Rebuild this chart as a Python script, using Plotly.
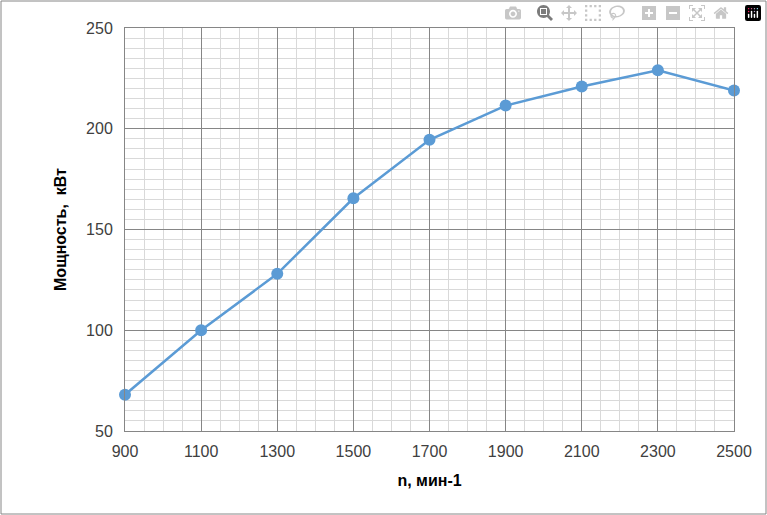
import plotly.graph_objects as go

rpm = [900, 1100, 1300, 1500, 1700, 1900, 2100, 2300, 2500]
power = [68, 100, 128, 165.5, 194.5, 211.5, 221, 229, 219]

W, H = 767, 515
ml, mr, mt, mb = 125, 33, 28, 84
pw, ph = W - ml - mr, H - mt - mb

fig = go.Figure(go.Scatter(
    x=rpm, y=power, mode="lines+markers", cliponaxis=False,
    line=dict(color="#5B9BD5", width=2.5),
    marker=dict(color="#5B9BD5", size=12),
))

fig.update_layout(
    width=W, height=H, margin=dict(l=ml, r=mr, t=mt, b=mb),
    plot_bgcolor="white", paper_bgcolor="white", showlegend=False,
    font=dict(family="Liberation Sans, Arial", size=16, color="#404040"),
)
fig.update_xaxes(
    range=[900, 2500], dtick=200, tickmode="linear", tick0=900,
    showgrid=True, gridcolor="#868686", gridwidth=1,
    minor=dict(dtick=50, showgrid=True, gridcolor="#D9D9D9"),
    showline=True, linecolor="#868686", mirror=True, zeroline=False,
    title=dict(text="<b>n, мин-1</b>", font=dict(size=16, color="black")),
    ticks="", ticklabelstandoff=6,
)
fig.update_yaxes(
    range=[50, 250], dtick=50,
    showgrid=True, gridcolor="#868686", gridwidth=1,
    minor=dict(dtick=5, showgrid=True, gridcolor="#D9D9D9"),
    showline=True, linecolor="#868686", mirror=True, zeroline=False,
    title=dict(text="<b>Мощность,  кВт</b>", font=dict(size=16, color="black")),
    ticks="", ticklabelstandoff=8,
)
fig.add_shape(type="rect", xref="paper", yref="paper",
              x0=-(ml - 1) / pw, x1=1 + (mr - 1) / pw,
              y0=-(mb - 1) / ph, y1=1 + (mt - 1) / ph,
              line=dict(color="#868686", width=1))

fig.write_html("out.html", post_script="document.body.style.margin='0';")
